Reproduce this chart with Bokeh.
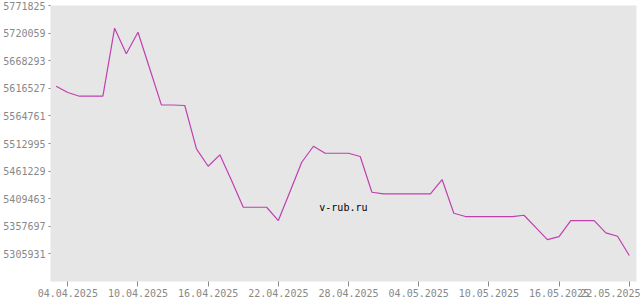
from datetime import datetime, timedelta
from bokeh.plotting import figure
from bokeh.models import FixedTicker, DatetimeTickFormatter, BasicTickFormatter, Range1d, Label
from bokeh.embed import file_html
from bokeh.resources import INLINE

start_date = datetime(2025, 4, 3)
values = [
    5620432, 5608613, 5601672, 5601672, 5601672, 5729240, 5681214, 5721736,
    5653637, 5585538, 5585163, 5584225, 5502994, 5470352, 5491738, 5443525,
    5393436, 5393436, 5393436, 5368485, 5422889, 5477856, 5507872, 5494740,
    5494740, 5494740, 5488549, 5421576, 5418574, 5418574, 5418574, 5418574,
    5418574, 5445401, 5382180, 5375989, 5375989, 5375989, 5375989, 5375989,
    5378428, 5355541, 5332841, 5338469, 5368485, 5368485, 5368485, 5345410,
    5339032, 5302825,
]
dates = [start_date + timedelta(days=i) for i in range(len(values))]

y_ticks = [5305931, 5357697, 5409463, 5461229, 5512995, 5564761,
           5616527, 5668293, 5720059, 5771825]
x_tick_dates = [datetime(2025, 4, 4) + timedelta(days=6 * i) for i in range(9)]

def ms(d):
    return (d - datetime(1970, 1, 1)).total_seconds() * 1000.0

day_ms = 86400000.0
base = ms(datetime(2025, 4, 4))
x_start = base - 1.48 * day_ms
x_end = base + 48.62 * day_ms
step = y_ticks[1] - y_ticks[0]

p = figure(width=640, height=300, x_axis_type="datetime",
           output_backend="svg", toolbar_location=None,
           x_range=Range1d(x_start, x_end),
           y_range=Range1d(y_ticks[0] - step, y_ticks[-1]),
           min_border_left=50, min_border_right=4,
           min_border_top=5, min_border_bottom=19)

p.background_fill_color = "#e6e6e6"
p.border_fill_color = "white"
p.outline_line_color = None
p.xgrid.visible = False
p.ygrid.visible = False

p.line(dates, values, line_color="#c040b0", line_width=1.2)

p.yaxis.ticker = FixedTicker(ticks=y_ticks)
p.yaxis.formatter = BasicTickFormatter(use_scientific=False)
p.xaxis.ticker = FixedTicker(ticks=[ms(d) for d in x_tick_dates])
fmt = "%d.%m.%Y"
p.xaxis.formatter = DatetimeTickFormatter(days=fmt, months=fmt, years=fmt,
                                          hours=fmt, minutes=fmt, seconds=fmt,
                                          milliseconds=fmt, microseconds=fmt,
                                          hourmin=fmt, minsec=fmt)

label_font = "DejaVu Sans Mono"
label_color = "#888888"
for ax in (p.xaxis[0], p.yaxis[0]):
    ax.axis_line_color = None
    ax.major_tick_line_color = label_color
    ax.minor_tick_line_color = None
    ax.major_tick_in = 0
    ax.major_label_text_font = label_font
    ax.major_label_text_font_size = "10px"
    ax.major_label_text_color = label_color

p.xaxis.major_tick_out = 5
p.xaxis.major_label_standoff = 2
p.yaxis.major_tick_out = 2
p.yaxis.major_label_standoff = 3

wm = Label(x=base + 23.56 * day_ms, y=y_ticks[-1] - 202 * step / 27.6,
           text="v-rub.ru", text_font=label_font, text_font_size="10px",
           text_color="black", text_align="center", text_baseline="middle")
p.add_layout(wm)

open("out.html", "w").write(file_html(p, INLINE))
